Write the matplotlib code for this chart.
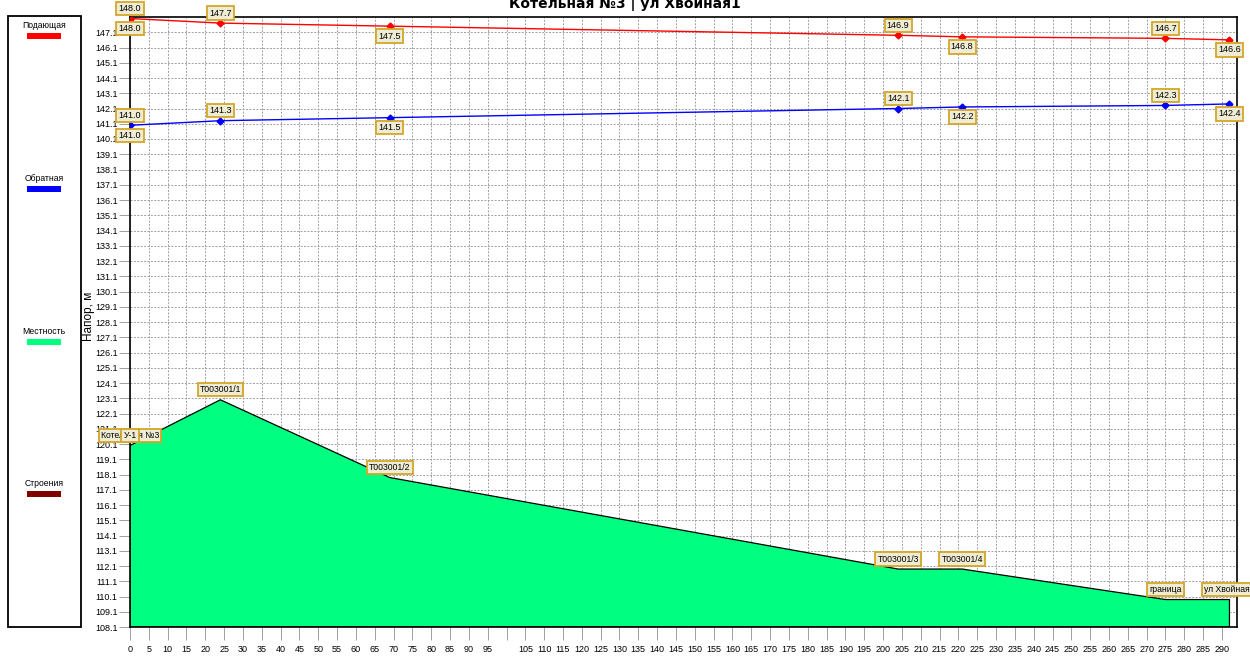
import matplotlib
matplotlib.use("Agg")
import matplotlib.pyplot as plt
import numpy as np
from matplotlib.patches import Rectangle

plt.rcParams['font.family'] = ['Liberation Sans', 'DejaVu Sans']

# ---- data ----
title = "Котельная №3 | ул Хвойная1"
node_names = ["Котельная №3", "У-1", "T003001/1", "T003001/2", "T003001/3",
              "T003001/4", "граница", "ул Хвойная1"]
distance = [0, 0, 24, 69, 204, 221, 275, 292]
supply = [148.0, 148.0, 147.7, 147.5, 146.9, 146.8, 146.7, 146.6]
ret = [141.0, 141.0, 141.3, 141.5, 142.1, 142.2, 142.3, 142.4]
terrain = [120.0, 120.0, 123.0, 117.9, 111.9, 111.9, 109.9, 109.9]
legend_names = ["Подающая", "Обратная", "Местность", "Строения"]
legend_colors = ["#ff0000", "#0000ff", "#00ff80", "#800000"]
y_min, y_max = 108.1, 148.1
x_max = 294
y_ticks = np.arange(108.1, 147.15, 1.0)
x_ticks = np.arange(0, 291, 5)
x_labels = [str(v) if v != 100 else "" for v in x_ticks]

fig = plt.figure(figsize=(12.5, 6.57), dpi=100)
ax = fig.add_axes([130/1250, 1-627/657, (1237-130)/1250, (627-17)/657])
ax.set_xlim(0, x_max)
ax.set_ylim(y_min, y_max)

ax.set_yticks(y_ticks)
ax.set_yticklabels([f"{v:.1f}" for v in y_ticks])
ax.set_xticks(x_ticks)
ax.set_xticklabels(x_labels)
ax.tick_params(axis='y', length=8, width=0.7, color='#a0a0a0', pad=1, labelsize=6.5)
ax.tick_params(axis='x', length=9, width=0.7, color='#a0a0a0', pad=4, labelsize=6.5)
ax.grid(True, color='#a0a0a0', linestyle=(0, (2, 1.5)), linewidth=0.7)
ax.set_axisbelow(True)
for s in ax.spines.values():
    s.set_color('black')
    s.set_linewidth(1.2)

# terrain
xs = [distance[0]] + distance + [distance[-1]]
ys = [y_min] + terrain + [y_min]
ax.fill(xs, ys, facecolor=legend_colors[2], edgecolor='black', linewidth=0.9, zorder=2)

# lines
ax.plot(distance, supply, color=legend_colors[0], lw=1.0, marker='D', ms=3.5, zorder=3)
ax.plot(distance, ret, color=legend_colors[1], lw=1.0, marker='D', ms=3.5, zorder=3)

box = dict(boxstyle='square,pad=0.25', facecolor='#efecd4', edgecolor='#d4a62a', linewidth=1.3)

for i, (x, s, r) in enumerate(zip(distance, supply, ret)):
    dy = 10 if i % 2 == 0 else -10
    for v in (s, r):
        ax.annotate(f"{v:.1f}", (x, v), xytext=(0, dy), textcoords='offset pixels',
                    ha='center', va='center', fontsize=6.5, bbox=box,
                    annotation_clip=False, zorder=6)

for x, t, name in zip(distance, terrain, node_names):
    ax.annotate(name, (x, t), xytext=(0, 10), textcoords='offset pixels',
                ha='center', va='center', fontsize=6.2, bbox=box,
                annotation_clip=False, zorder=6)

ax.set_ylabel("Напор, м", fontsize=8.5)
ax.yaxis.set_label_coords(-35/1107, 0.51)

fig.text(0.5, 1-4/657, title, ha='center', va='center', fontsize=10,
         fontweight='bold', family=['DejaVu Sans'])

# legend panel
fig.patches.append(Rectangle((8/1250, 1-627/657), 73/1250, (627-16)/657,
                             transform=fig.transFigure, facecolor='white',
                             edgecolor='black', linewidth=1.3, zorder=0))
text_y = [26, 179, 332, 484]
for name, col, ty in zip(legend_names, legend_colors, text_y):
    fig.text(44/1250, 1-ty/657, name, ha='center', va='center', fontsize=6.2)
    fig.patches.append(Rectangle((27/1250, 1-(ty+13)/657), 34/1250, 6/657,
                                 transform=fig.transFigure, facecolor=col,
                                 edgecolor='none'))

fig.savefig("out.png", dpi=100)
